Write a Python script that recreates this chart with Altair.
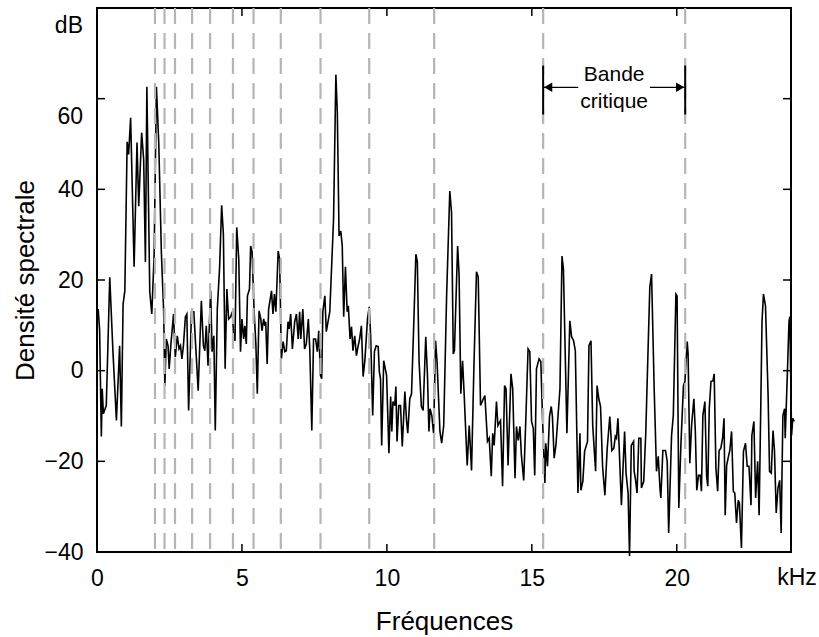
import altair as alt
import pandas as pd

# ---- spectrum (kHz, dB) ----
freq_khz = [
    0.04, 0.09, 0.15, 0.18, 0.22, 0.32, 0.44, 0.55, 0.67, 0.78, 0.84, 0.90, 0.96,
    1.04, 1.09, 1.16, 1.28, 1.38, 1.44, 1.54, 1.61, 1.67, 1.72, 1.82, 1.89, 1.97,
    2.05, 2.13, 2.22, 2.30, 2.34, 2.39, 2.45, 2.49, 2.55, 2.64, 2.70, 2.77, 2.83,
    2.88, 2.93, 2.98, 3.05, 3.10, 3.16, 3.26, 3.34, 3.41, 3.49, 3.60, 3.67, 3.72,
    3.77, 3.83, 3.87, 3.92, 3.97, 4.03, 4.08, 4.15, 4.23, 4.30, 4.36, 4.42, 4.48,
    4.54, 4.61, 4.67, 4.71, 4.76, 4.82,
    4.89, 4.95, 5.00, 5.06, 5.10, 5.15, 5.19, 5.26, 5.30, 5.35, 5.42, 5.48, 5.53,
    5.59, 5.65, 5.69, 5.75, 5.79, 5.82, 5.87, 5.92, 6.02, 6.07, 6.12, 6.17, 6.25,
    6.30, 6.36, 6.42, 6.48, 6.53, 6.59, 6.63, 6.68, 6.74, 6.82, 6.88, 6.94, 6.99,
    7.03, 7.10, 7.16, 7.22, 7.29, 7.34, 7.41, 7.47, 7.54, 7.60, 7.65, 7.71, 7.75,
    7.79, 7.86, 7.91, 7.97, 8.03, 8.09, 8.16, 8.24, 8.29, 8.35, 8.41, 8.46, 8.51,
    8.57, 8.63, 8.67, 8.73, 8.78, 8.83, 8.89, 8.95, 9.01, 9.06, 9.12, 9.18, 9.24,
    9.33, 9.39, 9.44, 9.51, 9.57, 9.63, 9.70, 9.74, 9.78, 9.82,
    9.89, 9.99, 10.07, 10.13, 10.17, 10.21, 10.27, 10.31, 10.35, 10.41, 10.47,
    10.53, 10.62, 10.68, 10.72, 10.79, 10.85, 10.94, 11.00, 11.05, 11.11, 11.19,
    11.25, 11.34, 11.40, 11.45, 11.49, 11.55, 11.61, 11.68, 11.73, 11.83, 11.89,
    11.96, 12.06, 12.17, 12.23, 12.29, 12.33, 12.44, 12.49, 12.55, 12.61, 12.66,
    12.77, 12.84, 12.92, 13.00, 13.09, 13.15, 13.23, 13.30, 13.38, 13.47, 13.53,
    13.60, 13.65, 13.70, 13.78, 13.83, 13.87, 13.92, 13.99, 14.06, 14.11, 14.18,
    14.28, 14.34, 14.42,
    14.47, 14.53, 14.59, 14.64, 14.72, 14.79, 14.87, 14.93, 14.99, 15.05, 15.10,
    15.16, 15.25, 15.31, 15.38, 15.45, 15.48, 15.54, 15.61, 15.67, 15.71, 15.77,
    15.83, 15.97, 16.04, 16.09, 16.21, 16.31, 16.37, 16.44, 16.50, 16.59, 16.66,
    16.69, 16.76, 16.82, 16.92, 16.97, 17.04, 17.10, 17.20, 17.25, 17.31, 17.37,
    17.44, 17.52, 17.60, 17.69, 17.76, 17.83, 17.88, 17.92, 17.97, 18.01, 18.09,
    18.20, 18.25, 18.32, 18.37, 18.43, 18.51, 18.53, 18.58, 18.63, 18.69, 18.76,
    18.78, 18.86, 18.93, 19.01, 19.07, 19.13, 19.22,
    19.30, 19.36, 19.42, 19.45, 19.52, 19.61, 19.67, 19.72, 19.82, 19.88, 19.97,
    20.01, 20.07, 20.14, 20.23, 20.28, 20.36, 20.39, 20.45, 20.51, 20.59, 20.64,
    20.69, 20.75, 20.81, 20.85, 20.90, 20.97, 21.03, 21.07, 21.12, 21.18, 21.25,
    21.29, 21.35, 21.41, 21.46, 21.52, 21.58, 21.63, 21.67, 21.72, 21.79, 21.83,
    21.89, 21.95, 22.00, 22.06, 22.12, 22.16, 22.23, 22.30, 22.37, 22.43, 22.49,
    22.56, 22.59, 22.66, 22.72, 22.79, 22.84, 22.90, 22.94, 22.99, 23.06, 23.15,
    23.20, 23.26, 23.32, 23.37, 23.43, 23.49, 23.55, 23.60, 23.66, 23.72, 23.74,
    23.82, 23.87, 23.90, 23.96, 24.00, 24.05,
]
level_db = [
    13.6, 9.0, -14.5, -4.0, -9.5, -7.7, 20.6, 4.2, -11.0, 5.5, -12.3, 14.7, 17.6,
    50.5, 47.7, 55.8, 22.9, 50.3, 36.3, 52.5, 46.6, 24.0, 62.6, 17.4, 12.5, 25.3,
    62.6, 50.3, 26.2, 13.0, -3.3, 7.0, 5.5, 0.4, 5.9, 12.5, 3.0, 7.7, 4.8,
    5.5, 2.6, 5.5, 11.9, 12.5, -8.8, 13.0, 13.0, 4.8, -4.4, 15.4, 5.5, 4.4,
    9.9, 1.1, 9.2, 17.6, 4.2, 7.7, -13.2, 13.6, 22.9, 36.5, 30.1, 0.4, 18.0,
    11.4, 11.9, 13.0, 8.1, 6.6, 31.6,
    24.6, 4.2, 11.4, 7.0, 9.9, 5.9, 16.5, 18.0, 27.5, 26.2, 13.0, 5.9, -5.1,
    13.2, 11.4, 8.8, 11.4, 9.9, 10.8, 1.5, 13.6, 17.6, 12.5, 16.9, 13.0, 26.4,
    24.6, 2.6, 6.4, 4.2, 4.4, 10.8, 9.2, 12.5, 4.8, 10.8, 12.5, 7.0, 13.0,
    7.0, 13.6, 4.8, 5.9, 11.4, 4.8, -13.2, 7.0, 7.0, 4.2, 8.8, -1.1, -1.8,
    13.0, 16.5, 8.6, 10.8, 13.0, 22.4, 33.4, 65.3, 57.0, 29.7, 30.8, 27.5, 11.9,
    22.9, 13.0, 14.3, 7.0, 9.7, 4.4, 7.7, 3.3, 5.5, 7.0, 9.9, -1.3, 2.2,
    11.4, 14.1, 7.7, -9.9, 4.2, 5.5, 5.3, -0.2, -1.8, -16.5,
    2.2, -1.1, -18.2, -5.7, -13.4, -6.8, -7.7, -3.5, -15.6, -7.7, -7.7,
    -16.7, -4.6, -11.2, -13.8, -6.2, -5.1, 13.0, 25.7, 24.0, 2.0, -7.9,
    -8.8, 7.5, -1.1, -13.4, -8.4, -9.9, -13.8, 6.6, 2.0, -13.4, -16.0,
    -12.1, 16.5, 39.6, 34.9, 3.7, 4.4, 27.5, 21.3, -5.1, 2.2, -4.4,
    -20.9, -12.1, -22.0, 0.4, 21.8, 20.7, -7.7, -6.6, -5.5, -15.6, -14.9,
    -23.3, -13.8, -16.5, -6.8, -12.1, -11.6, -11.0, -25.5, -3.3, -4.0, -20.9,
    -0.7, -4.0, -23.7,
    -12.3, -15.4, -12.3, -18.7, -24.2, -11.2, 4.8, 4.2, -11.2, -12.7, -23.1,
    0.4, 2.6, 2.0, -12.7, -24.8, -16.0, -21.1, -10.1, -7.9, -10.1, -19.3,
    -16.5, -4.0, 25.3, 22.4, -13.8, 11.0, 7.5, 6.6, 4.4, -27.0, -13.8,
    -26.4, -24.4, -17.8, -15.6, 5.5, 6.6, -12.1, -22.2, -3.3, -6.2, -7.9,
    -21.1, -27.5, -17.1, -10.1, -17.6, -17.1, -14.5, -14.9, -10.5, -16.5, -29.7,
    -13.4, -22.6, -27.0, -40.9, -16.5, -15.6, -22.2, -24.2, -27.0, -14.9, -14.9,
    -25.9, -24.4, -13.8, 4.8, 18.5, 21.3, -4.0,
    -22.2, -18.9, -25.9, -28.1, -17.6, -17.6, -20.0, -35.8, -14.3, -9.9, 16.9,
    16.5, -30.3, -16.7, -3.3, -2.4, 6.4, 3.7, -20.4, -12.1, -6.2, -13.4,
    -26.4, -23.1, -23.1, -26.6, -9.9, -6.8, -23.3, -25.5, -8.4, -2.4, -2.2,
    -0.7, -21.5, -26.6, -17.6, -17.1, -14.9, -10.5, -31.9, -20.9, -18.7, -17.6,
    -13.4, -26.6, -27.0, -33.6, -28.6, -29.2, -39.1, -17.8, -16.0, -21.1, -21.1,
    -29.7, -14.3, -11.2, -28.1, -20.0, -31.9, -6.8, 10.8, 16.9, 14.3, -5.5,
    -22.2, -22.6, -13.2, -17.6, -31.4, -25.9, -24.2, -35.8, -9.9, -8.4, -14.9,
    0.4, 10.8, 11.9, -14.3, -10.5, -11.2,
]

# critical band edges (kHz), drawn as grey dashed lines
band_edges_khz = [2.00, 2.33, 2.69, 3.28, 3.90, 4.69, 5.40, 6.34, 7.71, 9.39, 11.63, 15.39, 20.29]

# "Bande critique" annotation
crit_band = [15.39, 20.29]
bracket_db = [56.5, 67.3]
arrow_start_khz = [16.60, 19.07]
arrow_db = 62.5
band_words = ["Bande", "critique"]
band_words_db = [63.8, 58.0]

x_ticks = [0, 5, 10, 15, 20]
y_ticks = [-40, -20, 0, 20, 40, 60, 80]
y_axis_labels = [-40, -20, 0, 20, 40]
x_max = 23.94

W, H = 694, 544
FONT = "Liberation Sans"
LBL = 23
TTL = 26

xs = alt.Scale(domain=[0, x_max], nice=False, zero=False)
ys = alt.Scale(domain=[-40, 80], nice=False, zero=False)

x_axis = alt.Axis(
    values=x_ticks, title="Fréquences", grid=False, ticks=False, domain=False,
    labelFlush=False, labelFont=FONT, labelFontSize=LBL, labelColor="black",
    labelPadding=15, titleFont=FONT, titleFontSize=TTL, titleFontWeight="normal",
    titleColor="black", titleX=347, titleY=69, titleBaseline="middle",
    titleAnchor="middle", titleAlign="center")
y_axis = alt.Axis(
    values=y_axis_labels, title="Densité spectrale", grid=False, ticks=False,
    domain=False, labelFlush=False, labelFont=FONT, labelFontSize=LBL,
    labelColor="black", labelPadding=14, titleFont=FONT, titleFontSize=TTL,
    titleFontWeight="normal", titleColor="black", titleX=-72, titleY=272,
    titleAngle=270, titleBaseline="middle", titleAlign="center")


def X(field):
    return alt.X(field, scale=xs, axis=x_axis)


def Y(field):
    return alt.Y(field, scale=ys, axis=y_axis)


spec = pd.DataFrame({"f": freq_khz, "db": level_db})

line = alt.Chart(spec).mark_line(color="black", strokeWidth=1.6, clip=False).encode(
    x=X("f:Q"), y=Y("db:Q"))

dashed = alt.Chart(pd.DataFrame({"f": band_edges_khz})).mark_rule(
    color="#b5b5b5", strokeWidth=2.2, strokeDash=[16, 9]
).encode(x=X("f:Q"))

bracket = alt.Chart(pd.DataFrame({"f": crit_band, "y1": [bracket_db[0]] * 2,
                                  "y2": [bracket_db[1]] * 2})).mark_rule(
    color="black", strokeWidth=2
).encode(x=X("f:Q"), y=Y("y1:Q"), y2="y2:Q")

arrows = alt.Chart(pd.DataFrame({"f1": arrow_start_khz, "f2": crit_band,
                                 "y": [arrow_db] * 2})).mark_rule(
    color="black", strokeWidth=1.2
).encode(x=X("f1:Q"), x2="f2:Q", y=Y("y:Q"))

head_l = alt.Chart(pd.DataFrame({"f": [crit_band[0]], "y": [arrow_db]})).mark_point(
    shape="triangle-left", filled=True, color="black", size=90, opacity=1, xOffset=5
).encode(x=X("f:Q"), y=Y("y:Q"))

head_r = alt.Chart(pd.DataFrame({"f": [crit_band[1]], "y": [arrow_db]})).mark_point(
    shape="triangle-right", filled=True, color="black", size=90, opacity=1, xOffset=-5
).encode(x=X("f:Q"), y=Y("y:Q"))

words = alt.Chart(pd.DataFrame({"t": band_words, "f": [sum(crit_band) / 2] * 2,
                                "y": band_words_db})).mark_text(
    font=FONT, fontSize=21, color="black", align="center", baseline="alphabetic"
).encode(x=X("f:Q"), y=Y("y:Q"), text="t:N")

# inward ticks on all four sides
xt = pd.DataFrame({"f": x_ticks})
yt = pd.DataFrame({"v": y_ticks})
tick_b = alt.Chart(xt).mark_rule(color="black", strokeWidth=1.5).encode(
    x=X("f:Q"), y=alt.value(H), y2=alt.value(H - 8))
tick_t = alt.Chart(xt).mark_rule(color="black", strokeWidth=1.5).encode(
    x=X("f:Q"), y=alt.value(0), y2=alt.value(8))
tick_l = alt.Chart(yt).mark_rule(color="black", strokeWidth=1.5).encode(
    y=Y("v:Q"), x=alt.value(0), x2=alt.value(8))
tick_r = alt.Chart(yt).mark_rule(color="black", strokeWidth=1.5).encode(
    y=Y("v:Q"), x=alt.value(W), x2=alt.value(W - 8))

# top labels of the y axis (shifted down as in the original) and the unit on x
top_lbl = alt.Chart(pd.DataFrame({"t": ["60", "dB"], "v": [60, 80]})).mark_text(
    font=FONT, fontSize=LBL, color="black", align="right", baseline="middle", dy=18
).encode(y=Y("v:Q"), x=alt.value(-14), text="t:N")

khz = alt.Chart(pd.DataFrame({"t": ["kHz"], "f": [x_max], "v": [-40]})).mark_text(
    font=FONT, fontSize=LBL, color="black", align="center", baseline="middle", dx=6, dy=26
).encode(x=X("f:Q"), y=Y("v:Q"), text="t:N")

chart = alt.layer(
    line, dashed, bracket, arrows, head_l, head_r, words,
    tick_b, tick_t, tick_l, tick_r, top_lbl, khz
).properties(
    width=W, height=H,
    autosize=alt.AutoSizeParams(type="none"),
    padding={"left": 97, "top": 8, "right": 28, "bottom": 85},
    background="white",
).configure_view(stroke="black", strokeWidth=2)

chart.save("out.html", embed_options={"renderer": "svg", "actions": False})
